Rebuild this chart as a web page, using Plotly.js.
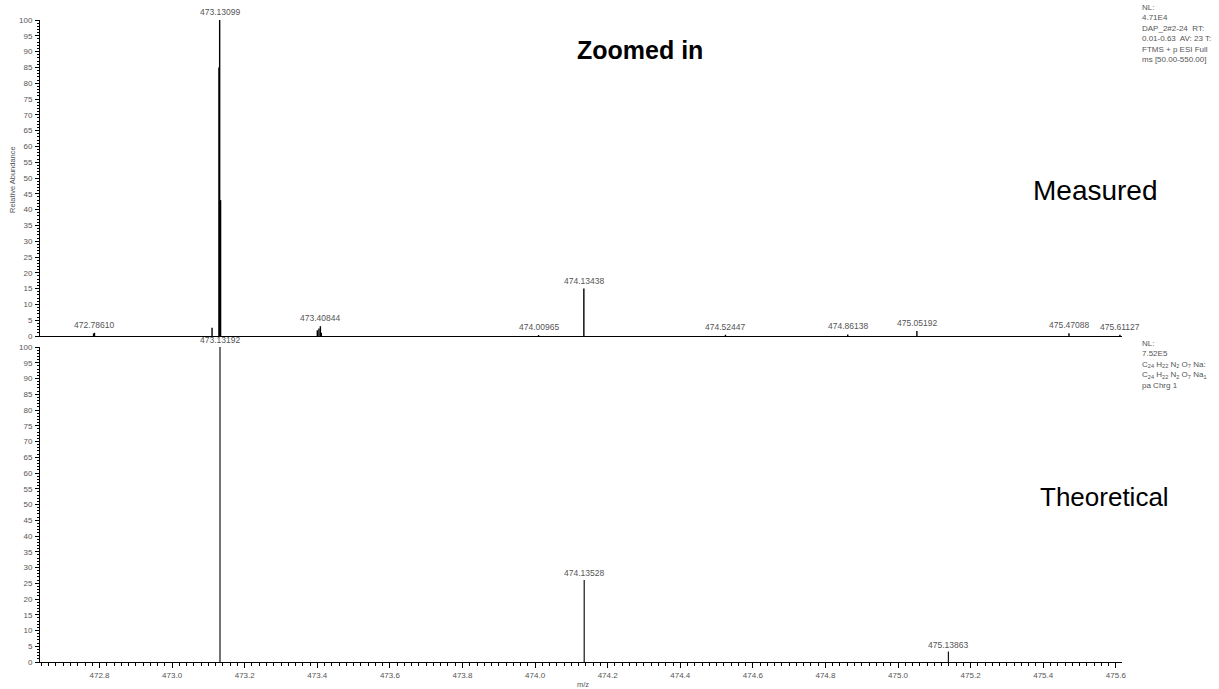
<!DOCTYPE html>
<html>
<head>
<meta charset="utf-8">
<script src="https://cdn.plot.ly/plotly-3.0.1.min.js"></script>
<style>html,body{margin:0;padding:0;background:#fff;}#chart{width:1219px;height:689px;}</style>
</head>
<body>
<div id="chart"></div>
<script>
// Measured spectrum (top) – centroid/profile sticks
const measuredMz  = [472.7835, 472.78610, 473.1100, 473.1290, 473.13099, 473.1335, 473.4000, 473.4045, 473.40844, 473.4110, 474.00965, 474.13438, 474.52447, 474.86138, 475.05192, 475.47088, 475.61127];
const measuredInt = [0.8, 1.0, 2.6, 85, 100, 43, 1.8, 2.4, 3.1, 1.0, 0.3, 15, 0.4, 0.5, 1.6, 0.9, 0.4];
// Labelled measured peaks
const measuredLabelMz  = [472.78610, 473.13099, 473.40844, 474.00965, 474.13438, 474.52447, 474.86138, 475.05192, 475.47088, 475.61127];
const measuredLabelInt = [1.0, 100, 3.1, 0.3, 15, 0.4, 0.5, 1.6, 0.9, 0.4];
const measuredLabels   = ['472.78610','473.13099','473.40844','474.00965','474.13438','474.52447','474.86138','475.05192','475.47088','475.61127'];
// Theoretical spectrum (bottom)
const theoMz  = [473.13192, 474.13528, 475.13863];
const theoInt = [100, 26, 3.3];
const theoLabels = ['473.13192','474.13528','475.13863'];
// Axis tick values
const xTicks = [472.8, 473.0, 473.2, 473.4, 473.6, 473.8, 474.0, 474.2, 474.4, 474.6, 474.8, 475.0, 475.2, 475.4, 475.6];
const xTickText = ['472.8','473.0','473.2','473.4','473.6','473.8','474.0','474.2','474.4','474.6','474.8','475.0','475.2','475.4','475.6'];
const yTicks = [0,5,10,15,20,25,30,35,40,45,50,55,60,65,70,75,80,85,90,95,100];

function sticks(mz, inten) {
  const x = [], y = [];
  for (let i = 0; i < mz.length; i++) { x.push(mz[i], mz[i], null); y.push(0, inten[i], null); }
  return {x, y};
}
const m = sticks(measuredMz, measuredInt);
const t = sticks(theoMz, theoInt);

const FONT = 'Liberation Sans, Arial, sans-serif';
const GRAY = '#555';
const xr = [472.636, 475.617];

const traces = [
  {x: m.x, y: m.y, xaxis: 'x2', yaxis: 'y2', mode: 'lines', line: {color: '#000', width: 1.4}, connectgaps: false, hoverinfo: 'skip', showlegend: false},
  {x: t.x, y: t.y, xaxis: 'x', yaxis: 'y', mode: 'lines', line: {color: '#000', width: 1.1}, connectgaps: false, hoverinfo: 'skip', showlegend: false}
];

const yax = {
  range: [0, 100], tickmode: 'array', tickvals: yTicks, ticktext: yTicks.map(String),
  ticks: 'outside', ticklen: 4, tickwidth: 1, tickcolor: '#000',
  minor: {dtick: 1, tick0: 0, ticks: 'outside', ticklen: 2, tickcolor: '#000', tickwidth: 1},
  showline: true, linecolor: '#000', linewidth: 1, showgrid: false, zeroline: false,
  tickfont: {family: FONT, size: 8, color: GRAY}, ticklabelstandoff: 1, fixedrange: true
};

const L = 40, R = 97, T = 0, B = 0;
const W = 1219, H = 689;
const pw = W - L - R, ph = H - T - B;
function px2x(px) { return (px - L) / pw; }
function px2y(py) { return 1 - (py - T) / ph; }
function dom(top, bottom) { return [px2y(bottom), px2y(top)]; }

const annotations = [];
for (let i = 0; i < measuredLabels.length; i++) {
  annotations.push({x: measuredLabelMz[i], y: measuredLabelInt[i], xref: 'x2', yref: 'y2', text: measuredLabels[i], showarrow: false, xanchor: 'center', yanchor: 'bottom', yshift: 1, font: {family: FONT, size: 8.5, color: GRAY}});
}
for (let i = 0; i < theoLabels.length; i++) {
  annotations.push({x: theoMz[i], y: theoInt[i], xref: 'x', yref: 'y', text: theoLabels[i], showarrow: false, xanchor: 'center', yanchor: 'bottom', yshift: 0, font: {family: FONT, size: 8.5, color: GRAY}});
}
function paperText(px, py, text, font, extra) {
  return Object.assign({x: px2x(px), y: px2y(py), xref: 'paper', yref: 'paper', text: text, showarrow: false, xanchor: 'center', yanchor: 'middle', font: font}, extra || {});
}
annotations.push(
  paperText(640, 50, '<b>Zoomed in</b>', {family: FONT, size: 25, color: '#000'}),
  paperText(1095, 190, 'Measured', {family: FONT, size: 28, color: '#000'}),
  paperText(1104, 497, 'Theoretical', {family: FONT, size: 26, color: '#000'}),
  paperText(12, 180, 'Relative Abundance', {family: FONT, size: 7.5, color: GRAY}, {textangle: -90}),
  paperText(583, 684, 'm/z', {family: FONT, size: 7.5, color: GRAY}),
  paperText(1140, 1, 'NL:<br>4.71E4<br>DAP_2#2-24  RT:<br>0.01-0.63  AV: 23 T:<br>FTMS + p ESI Full<br>ms [50.00-550.00]',
    {family: FONT, size: 8, color: GRAY}, {xanchor: 'left', yanchor: 'top', align: 'left'}),
  paperText(1140, 337, 'NL:<br>7.52E5<br>C<sub>24</sub> H<sub>22</sub> N<sub>2</sub> O<sub>7</sub> Na:<br>C<sub>24</sub> H<sub>22</sub> N<sub>2</sub> O<sub>7</sub> Na<sub>1</sub><br>pa Chrg 1',
    {family: FONT, size: 8, color: GRAY}, {xanchor: 'left', yanchor: 'top', align: 'left'})
);

const layout = {
  width: W, height: H, margin: {l: L, r: R, t: T, b: B},
  paper_bgcolor: '#fff', plot_bgcolor: 'rgba(0,0,0,0)',
  showlegend: false,
  xaxis: {
    range: xr, domain: [0, 1], anchor: 'y', tickmode: 'array', tickvals: xTicks, ticktext: xTickText,
    ticks: 'outside', ticklen: 5, tickwidth: 1, tickcolor: '#000',
    minor: {dtick: 0.02, tick0: 472.8, ticks: 'outside', ticklen: 3, tickcolor: '#000', tickwidth: 1},
    showline: true, linecolor: '#000', linewidth: 1, showgrid: false, zeroline: false,
    tickfont: {family: FONT, size: 8, color: GRAY}, fixedrange: true
  },
  yaxis: Object.assign({}, yax, {domain: dom(347, 662), anchor: 'x'}),
  xaxis2: {
    range: xr, domain: [0, 1], anchor: 'y2', showticklabels: false, ticks: '',
    showline: true, linecolor: '#000', linewidth: 1, showgrid: false, zeroline: false, fixedrange: true
  },
  yaxis2: Object.assign({}, yax, {domain: dom(20, 336), anchor: 'x2'}),
  annotations: annotations
};

Plotly.newPlot('chart', traces, layout, {staticPlot: true, displayModeBar: false});
</script>
</body>
</html>
